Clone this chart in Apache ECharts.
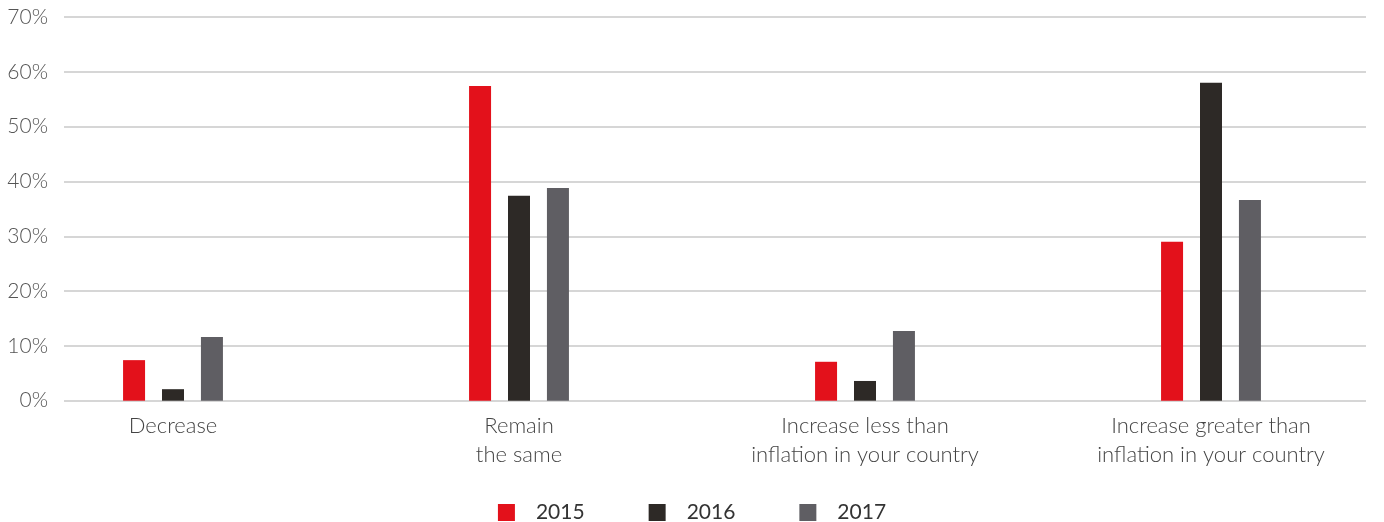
<!DOCTYPE html>
<html>
<head>
<meta charset="utf-8">
<script src="https://cdn.jsdelivr.net/npm/echarts@6/dist/echarts.min.js"></script>
<style>
  html, body { margin: 0; padding: 0; background: #ffffff; }
  #chart { width: 1384px; height: 522px; }
</style>
</head>
<body>
<div id="chart"></div>
<script>
// Expected change in salary, share of respondents by year
const categories = [
  'Decrease',
  'Remain\nthe same',
  'Increase less than\ninflation in your country',
  'Increase greater than\ninflation in your country'
];
const years = ['2015', '2016', '2017'];
const values2015 = [7.4, 57.4, 7.1, 29.0];
const values2016 = [2.1, 37.4, 3.6, 58.0];
const values2017 = [11.6, 38.8, 12.7, 36.6];
const yTicks = [0, 10, 20, 30, 40, 50, 60, 70];

const colors = ['#e3111b', '#2d2926', '#5f5e63'];
const FONT = 'Lato, "Noto Sans", sans-serif';

const chart = echarts.init(document.getElementById('chart'), null, { renderer: 'canvas' });

const seriesData = [values2015, values2016, values2017];

chart.setOption({
  animation: false,
  color: colors,
  textStyle: { fontFamily: FONT },
  legend: {
    data: years,
    left: 'center',
    top: 497,
    itemWidth: 17,
    itemHeight: 17,
    itemGap: 64,
    icon: 'rect',
    textStyle: {
      fontFamily: FONT,
      fontSize: 21,
      color: '#333333',
      padding: [0, 0, 0, 16]
    }
  },
  grid: [
    // value axis and horizontal gridlines
    { left: 64, right: 18, top: 17, bottom: 121.3, containLabel: false },
    // bars and category labels
    { left: -17.5, right: -26.5, top: 17, bottom: 121.3, containLabel: false }
  ],
  xAxis: [
    { gridIndex: 0, type: 'category', data: categories, show: false },
    {
      gridIndex: 1,
      type: 'category',
      data: categories,
      boundaryGap: true,
      axisLine: { show: false },
      axisTick: { show: false },
      axisLabel: {
        interval: 0,
        margin: 11,
        fontFamily: FONT,
        fontWeight: 300,
        fontSize: 22,
        lineHeight: 29,
        color: '#444444'
      }
    }
  ],
  yAxis: [
    {
      gridIndex: 0,
      type: 'value',
      min: yTicks[0],
      max: yTicks[yTicks.length - 1],
      interval: 10,
      axisLine: { show: false },
      axisTick: { show: false },
      axisLabel: {
        margin: 16,
        fontFamily: FONT,
        fontWeight: 300,
        fontSize: 21,
        color: '#555555',
        formatter: '{value}%'
      },
      splitLine: { lineStyle: { color: '#c8c8c8', width: 1.5 } }
    },
    {
      gridIndex: 1,
      type: 'value',
      min: yTicks[0],
      max: yTicks[yTicks.length - 1],
      interval: 10,
      show: false,
      splitLine: { show: false }
    }
  ],
  series: years.map((y, i) => ({
    name: y,
    type: 'bar',
    xAxisIndex: 1,
    yAxisIndex: 1,
    data: seriesData[i],
    barWidth: 22,
    barGap: '77%',
    itemStyle: { color: colors[i] }
  }))
});
</script>
</body>
</html>
